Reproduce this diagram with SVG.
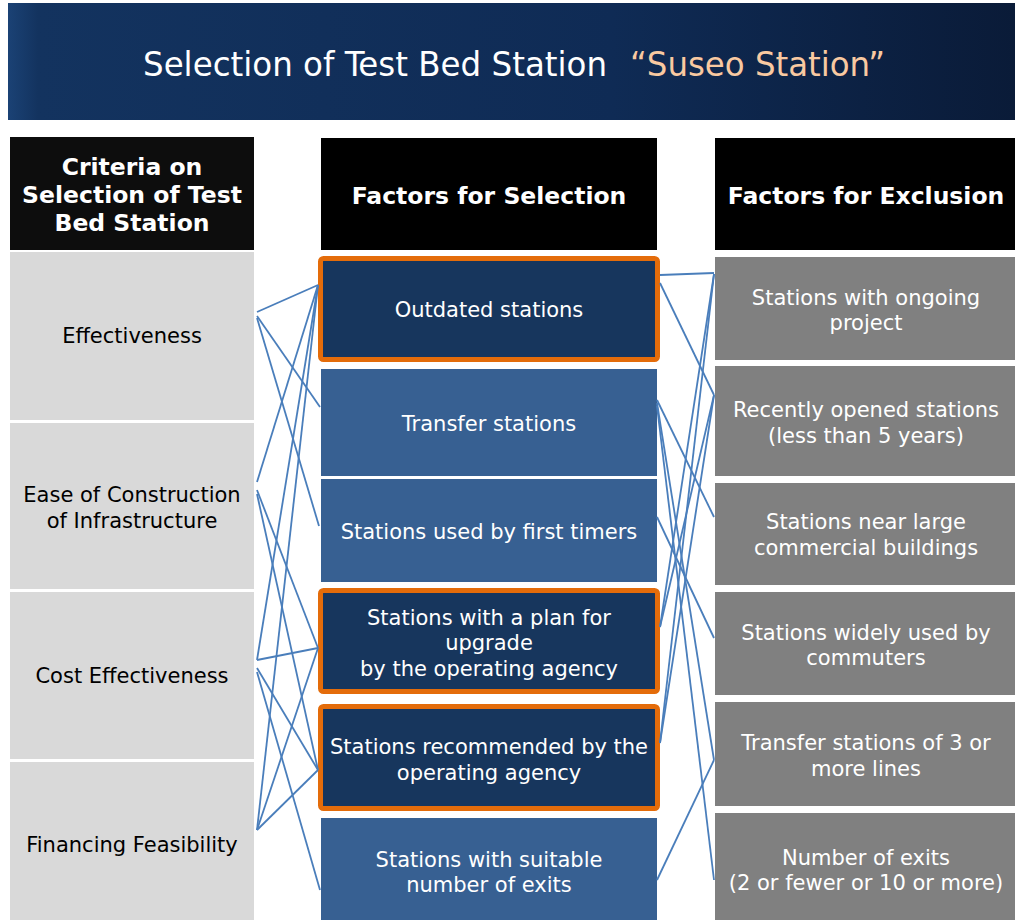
<svg xmlns="http://www.w3.org/2000/svg" width="1015" height="920" viewBox="0 0 1015 920">
<defs>
<linearGradient id="hdr" x1="0" y1="0" x2="1" y2="0">
<stop offset="0" stop-color="#1b4275"/>
<stop offset="0.03" stop-color="#13335f"/>
<stop offset="0.6" stop-color="#0f2b55"/>
<stop offset="1" stop-color="#0a1b38"/>
</linearGradient>
<style>
.crit{fill:#d9d9d9}
.head{fill:#0d0d0d}
.sel{fill:#376092}
.hl{fill:#17365d;stroke:#e46c0a;stroke-width:5}
.exc{fill:#808080}
.t{font-family:"DejaVu Sans","Verdana",sans-serif;font-size:21px;text-anchor:middle}
.tb{font-family:"DejaVu Sans","Verdana",sans-serif;font-size:23.5px;font-weight:bold;text-anchor:middle;fill:#fff}
.w{fill:#fff}
.k{fill:#000}
#connectors line{stroke:#4a7ebb;stroke-width:1.8}
</style>
</defs>
<rect width="1015" height="920" fill="#fff"/>
<g id="title">
<rect x="8" y="3" width="1007" height="117" fill="url(#hdr)"/>
<text font-family="DejaVu Sans Condensed, Liberation Sans, sans-serif" font-size="34" fill="#fff"><tspan x="143" y="76" textLength="464" lengthAdjust="spacingAndGlyphs">Selection of Test Bed Station</tspan><tspan x="630" y="76" fill="#f9c9a1" textLength="255" lengthAdjust="spacingAndGlyphs">“Suseo Station”</tspan></text>
</g>
<g id="header-criteria"><rect class="head" x="10" y="137" width="244" height="113"/><text class="tb" x="132" y="175">Criteria on</text><text class="tb" x="132" y="203">Selection of Test</text><text class="tb" x="132" y="231">Bed Station</text></g>
<g id="header-selection"><rect x="321" y="138" width="336" height="112" fill="#000"/><text class="tb" x="489" y="204">Factors for Selection</text></g>
<g id="header-exclusion"><rect x="715" y="138" width="300" height="112" fill="#000"/><text class="tb" x="866" y="204">Factors for Exclusion</text></g>

<g id="c-effectiveness"><rect class="crit" x="10" y="252" width="244" height="168"/><text class="t k" x="132" y="343">Effectiveness</text></g>
<g id="c-ease"><rect class="crit" x="10" y="423" width="244" height="166"/><text class="t k" x="132" y="502">Ease of Construction</text><text class="t k" x="132" y="528">of Infrastructure</text></g>
<g id="c-cost"><rect class="crit" x="10" y="592" width="244" height="167"/><text class="t k" x="132" y="683">Cost Effectiveness</text></g>
<g id="c-financing"><rect class="crit" x="10" y="762" width="244" height="158"/><text class="t k" x="132" y="852">Financing Feasibility</text></g>

<g id="s-outdated"><rect class="hl" x="320.5" y="258.5" width="337" height="101" rx="3"/><text class="t w" x="489" y="317">Outdated stations</text></g>
<g id="s-transfer"><rect class="sel" x="321" y="369" width="336" height="107"/><text class="t w" x="489" y="431">Transfer stations</text></g>
<g id="s-first"><rect class="sel" x="321" y="479" width="336" height="103"/><text class="t w" x="489" y="539">Stations used by first timers</text></g>
<g id="s-plan"><rect class="hl" x="320.5" y="590.5" width="337" height="101" rx="3"/><text class="t w" x="489" y="625">Stations with a plan for</text><text class="t w" x="489" y="650">upgrade</text><text class="t w" x="489" y="676">by the operating agency</text></g>
<g id="s-recommended"><rect class="hl" x="320.5" y="706.5" width="337" height="102" rx="3"/><text class="t w" x="489" y="754">Stations recommended by the</text><text class="t w" x="489" y="780">operating agency</text></g>
<g id="s-exits"><rect class="sel" x="321" y="818" width="336" height="102"/><text class="t w" x="489" y="867">Stations with suitable</text><text class="t w" x="489" y="892">number of exits</text></g>

<g id="e-ongoing"><rect class="exc" x="715" y="257" width="300" height="103"/><text class="t w" x="866" y="305">Stations with ongoing</text><text class="t w" x="866" y="330">project</text></g>
<g id="e-recent"><rect class="exc" x="715" y="366" width="300" height="110"/><text class="t w" x="866" y="417">Recently opened stations</text><text class="t w" x="866" y="443">(less than 5 years)</text></g>
<g id="e-commercial"><rect class="exc" x="715" y="483" width="300" height="102"/><text class="t w" x="866" y="529">Stations near large</text><text class="t w" x="866" y="555">commercial buildings</text></g>
<g id="e-commuters"><rect class="exc" x="715" y="592" width="300" height="103"/><text class="t w" x="866" y="640">Stations widely used by</text><text class="t w" x="866" y="665">commuters</text></g>
<g id="e-transfer3"><rect class="exc" x="715" y="702" width="300" height="104"/><text class="t w" x="866" y="750">Transfer stations of 3 or</text><text class="t w" x="866" y="776">more lines</text></g>
<g id="e-exits"><rect class="exc" x="715" y="813" width="300" height="107"/><text class="t w" x="866" y="865">Number of exits</text><text class="t w" x="866" y="890">(2 or fewer or 10 or more)</text></g>

<g id="connectors">
<line x1="257" y1="312" x2="318" y2="285"/>
<line x1="257" y1="316" x2="320" y2="407"/>
<line x1="257" y1="318" x2="319" y2="526"/>
<line x1="257" y1="482" x2="318" y2="285"/>
<line x1="257" y1="490" x2="318" y2="648"/>
<line x1="257" y1="494" x2="318" y2="770"/>
<line x1="257" y1="660" x2="318" y2="285"/>
<line x1="257" y1="660" x2="318" y2="648"/>
<line x1="257" y1="668" x2="318" y2="770"/>
<line x1="257" y1="672" x2="320" y2="890"/>
<line x1="257" y1="830" x2="318" y2="285"/>
<line x1="257" y1="830" x2="318" y2="648"/>
<line x1="257" y1="830" x2="318" y2="770"/>
<line x1="660" y1="275" x2="714" y2="273"/>
<line x1="660" y1="283" x2="714" y2="395"/>
<line x1="657" y1="400" x2="714" y2="517"/>
<line x1="657" y1="403" x2="714" y2="760"/>
<line x1="657" y1="406" x2="714" y2="880"/>
<line x1="657" y1="517" x2="714" y2="638"/>
<line x1="660" y1="627" x2="714" y2="274"/>
<line x1="660" y1="627" x2="714" y2="395"/>
<line x1="660" y1="743" x2="714" y2="274"/>
<line x1="660" y1="743" x2="714" y2="395"/>
<line x1="657" y1="880" x2="714" y2="760"/>
</g>
</svg>
